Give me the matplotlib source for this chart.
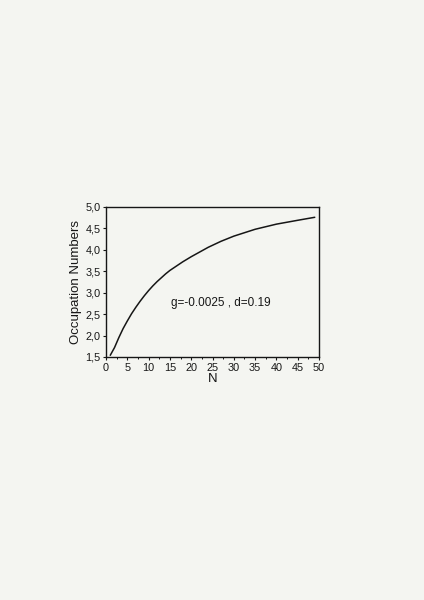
import numpy as np
import matplotlib.pyplot as plt
from matplotlib.ticker import MultipleLocator, FuncFormatter

# Occupation numbers vs N
N = np.array([1, 2, 3, 4, 5, 6, 7, 8, 9, 10, 11, 12, 13, 14, 15, 18, 20, 24, 27,
              30, 35, 40, 45, 49])
occ = np.array([1.54, 1.72, 1.95, 2.16, 2.34, 2.51, 2.66, 2.80, 2.93, 3.05, 3.16,
                3.26, 3.35, 3.44, 3.52, 3.72, 3.84, 4.06, 4.20, 4.32, 4.48, 4.60,
                4.69, 4.76])

x_ticks = np.arange(0, 51, 5)
y_ticks = np.arange(1.5, 5.01, 0.5)

bg = "#f4f5f1"
ink = "#161616"
font = "Liberation Sans"

fig = plt.figure(figsize=(4.24, 6.0), dpi=100, facecolor=bg)
ax = fig.add_axes([0.25, 0.405, 0.5024, 0.25], facecolor=bg)

ax.plot(N, occ, color=ink, lw=1.1, solid_capstyle="round", solid_joinstyle="round")
ax.text(27, 2.75, "g=-0.0025 , d=0.19", fontsize=8.5, ha="center", va="center",
        family=font, color=ink)

ax.set_xlim(0, 50)
ax.set_ylim(1.5, 5.0)
ax.set_xticks(x_ticks)
ax.set_yticks(y_ticks)
ax.xaxis.set_minor_locator(MultipleLocator(2.5))
ax.yaxis.set_major_formatter(FuncFormatter(lambda v, p: f"{v:.1f}".replace(".", ",")))
ax.tick_params(direction="out", length=2.5, width=0.8, labelsize=7.8, pad=1.5,
               colors=ink)
ax.tick_params(axis="x", which="minor", direction="out", length=1.5, width=0.7,
               colors=ink)
for lbl in ax.get_xticklabels() + ax.get_yticklabels():
    lbl.set_family(font)
for s in ax.spines.values():
    s.set_linewidth(1.0)
    s.set_color(ink)

ax.set_xlabel("N", fontsize=9.5, family=font, labelpad=0, color=ink)
ax.set_ylabel("Occupation Numbers", fontsize=9.5, family=font, labelpad=2, color=ink)

fig.savefig("out.png", dpi=100, facecolor=bg)
